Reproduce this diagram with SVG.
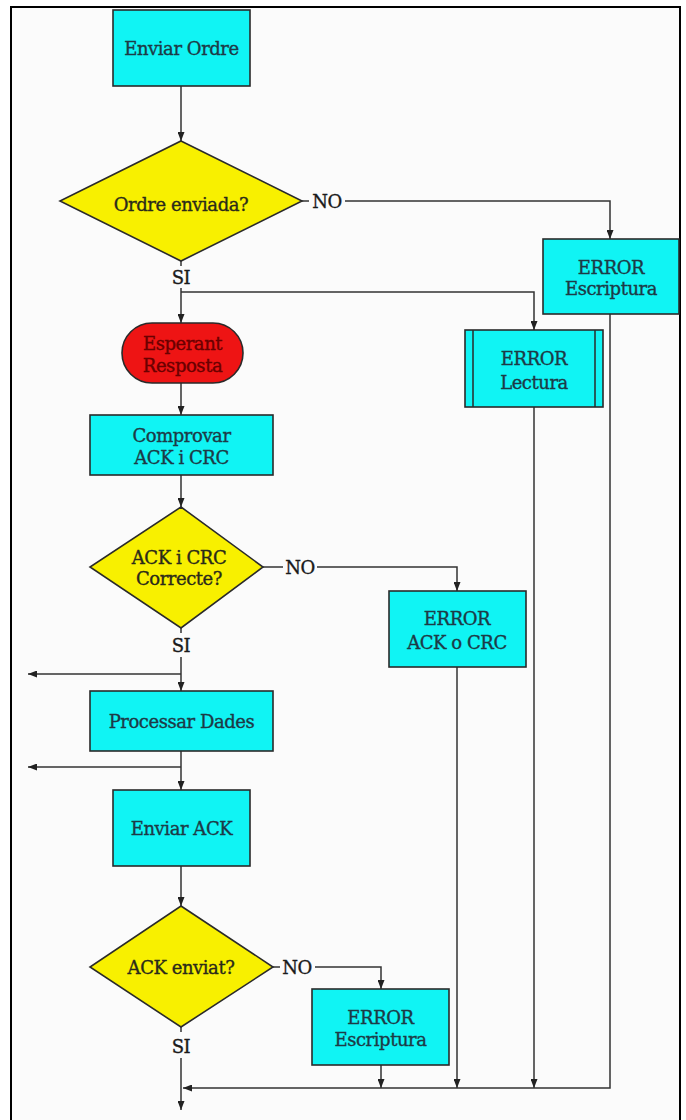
<svg xmlns="http://www.w3.org/2000/svg" width="686" height="1120" viewBox="0 0 686 1120">
<style>
.t{font-family:"DejaVu Serif","Liberation Serif",serif;font-size:18px;letter-spacing:-0.45px;text-anchor:middle;stroke-width:0.35px}
.box{fill:#10f4f4;stroke:#2a2a2a;stroke-width:1.6}
.dia{fill:#f8f000;stroke:#2a2a2a;stroke-width:1.6}
.term{fill:#ee1414;stroke:#2a2a2a;stroke-width:1.6}
.bt{fill:#1d3a46;stroke:#1d3a46}
.dt{fill:#2a2a1a;stroke:#2a2a1a}
.rt{fill:#6a0000;stroke:#6a0000}
.lb{fill:#1a1a1a;stroke:#1a1a1a}
.c{fill:none;stroke:#333;stroke-width:1.5}
.ca{fill:none;stroke:#333;stroke-width:1.5;marker-end:url(#ah)}
</style>
<defs>
<marker id="ah" viewBox="0 0 10 10" refX="10" refY="5" markerWidth="9" markerHeight="7" orient="auto" markerUnits="userSpaceOnUse" preserveAspectRatio="none"><path d="M0,0 L10,5 L0,10 z" fill="#222"/></marker>
</defs>
<rect x="0" y="0" width="686" height="1120" fill="#ffffff"/>
<rect x="11" y="7" width="669" height="1125" fill="#fbfbfb" stroke="#000" stroke-width="2"/>

<g id="connectors">
<path class="ca" d="M181,86 V141"/>
<path class="c" d="M302,201 H309"/>
<path class="ca" d="M345,201 H610 V239"/>
<path class="c" d="M181,261 V266"/>
<path class="ca" d="M181,288 V323"/>
<path class="ca" d="M181,292 H534 V330"/>
<path class="ca" d="M181,383 V415"/>
<path class="ca" d="M181,475 V507"/>
<path class="c" d="M263,567 H283"/>
<path class="ca" d="M317,567 H457 V591"/>
<path class="c" d="M181,628 V633"/>
<path class="ca" d="M181,657 V691"/>
<path class="ca" d="M181,674 H28"/>
<path class="ca" d="M181,751 V790"/>
<path class="ca" d="M181,767 H28"/>
<path class="ca" d="M181,866 V906"/>
<path class="c" d="M273,967 H280"/>
<path class="ca" d="M315,967 H381 V989"/>
<path class="c" d="M181,1027 V1032"/>
<path class="ca" d="M181,1058 V1110"/>
<path class="ca" d="M381,1065 V1088"/>
<path class="ca" d="M457,667 V1088"/>
<path class="ca" d="M534,407 V1088"/>
<path class="ca" d="M610,314 V1088 H183"/>
</g>

<g id="n_enviar_ordre">
<rect class="box" x="113" y="10" width="137" height="76"/>
<text class="t bt" x="181.5" y="55">Enviar Ordre</text>
</g>
<g id="n_ordre_enviada">
<polygon class="dia" points="181,141 302,201 181,261 60,201"/>
<text class="t dt" x="181" y="211">Ordre enviada?</text>
</g>
<g id="n_error_escriptura1">
<rect class="box" x="543" y="239" width="136" height="75"/>
<text class="t bt" x="611" y="274">ERROR</text>
<text class="t bt" x="611" y="295">Escriptura</text>
</g>
<g id="n_error_lectura">
<rect class="box" x="465" y="330" width="138" height="77"/>
<line x1="473" y1="330" x2="473" y2="407" stroke="#2a2a2a" stroke-width="1.5"/>
<line x1="595" y1="330" x2="595" y2="407" stroke="#2a2a2a" stroke-width="1.5"/>
<text class="t bt" x="534" y="365">ERROR</text>
<text class="t bt" x="534" y="389">Lectura</text>
</g>
<g id="n_esperant">
<rect class="term" x="122" y="323" width="121" height="60" rx="30" ry="30"/>
<text class="t rt" x="182.5" y="350">Esperant</text>
<text class="t rt" x="182.5" y="372">Resposta</text>
</g>
<g id="n_comprovar">
<rect class="box" x="90" y="415" width="183" height="60"/>
<text class="t bt" x="181.5" y="442">Comprovar</text>
<text class="t bt" x="181.5" y="464">ACK i CRC</text>
</g>
<g id="n_ack_crc_correcte">
<polygon class="dia" points="181,507 263,567 181,628 90,567"/>
<text class="t dt" x="179" y="564">ACK i CRC</text>
<text class="t dt" x="179" y="585">Correcte?</text>
</g>
<g id="n_error_ack_crc">
<rect class="box" x="389" y="591" width="137" height="76"/>
<text class="t bt" x="457" y="625">ERROR</text>
<text class="t bt" x="457" y="649">ACK o CRC</text>
</g>
<g id="n_processar">
<rect class="box" x="90" y="691" width="183" height="60"/>
<text class="t bt" x="181.5" y="728">Processar Dades</text>
</g>
<g id="n_enviar_ack">
<rect class="box" x="113" y="790" width="137" height="76"/>
<text class="t bt" x="181.5" y="835">Enviar ACK</text>
</g>
<g id="n_ack_enviat">
<polygon class="dia" points="181,906 273,967 181,1027 90,967"/>
<text class="t dt" x="181" y="974">ACK enviat?</text>
</g>
<g id="n_error_escriptura2">
<rect class="box" x="312" y="989" width="137" height="76"/>
<text class="t bt" x="380.5" y="1024">ERROR</text>
<text class="t bt" x="380.5" y="1046">Escriptura</text>
</g>

<g id="labels">
<text class="t lb" x="327" y="208">NO</text>
<text class="t lb" x="181" y="284">SI</text>
<text class="t lb" x="300" y="574">NO</text>
<text class="t lb" x="181" y="652">SI</text>
<text class="t lb" x="297" y="974">NO</text>
<text class="t lb" x="181" y="1053">SI</text>
</g>
</svg>
